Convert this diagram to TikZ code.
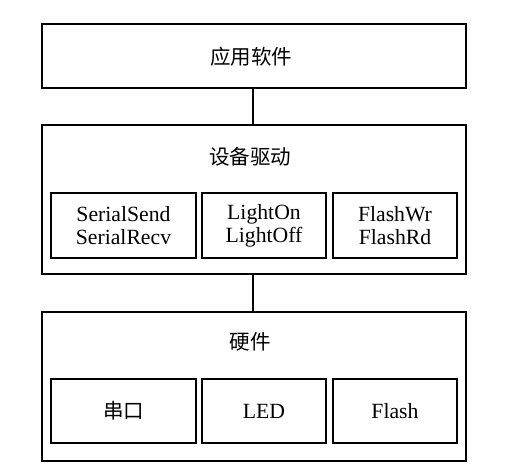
\documentclass[tikz,border=0pt]{standalone}
\usepackage{fontspec}
\setmainfont{Liberation Serif}
\newfontfamily\cjk{Noto Sans CJK SC}
\begin{document}
\begin{tikzpicture}[x=1pt,y=-1pt,
  box/.style={draw,line width=1.1pt,inner sep=0pt,outer sep=0pt,anchor=north west},
  cjktext/.style={font=\cjk\fontsize{20.5}{24}\selectfont},
  latintext/.style={font=\fontsize{21.7}{23}\selectfont,align=center},
  link/.style={line width=1.1pt}]
\useasboundingbox (0,0) rectangle (515,472);
% top
\node[box,minimum width=424pt,minimum height=64pt] (app) at (42,24) {};
\node[cjktext] (apptxt) at (251,57) {应用软件};
% driver layer
\node[box,minimum width=424pt,minimum height=149pt] (drv) at (42,125) {};
\node[cjktext] (drvtxt) at (250,157) {设备驱动};
\node[box,minimum width=145pt,minimum height=65pt] (d1) at (51,193) {};
\node[box,minimum width=124pt,minimum height=65pt] (d2) at (202,193) {};
\node[box,minimum width=124pt,minimum height=65pt] (d3) at (333,193) {};
\node[latintext] (d1t) at (d1.center) {SerialSend\\SerialRecv};
\node[latintext] (d2t) at (d2.center) {LightOn\\LightOff};
\node[latintext] (d3t) at (d3.center) {FlashWr\\FlashRd};
% hardware layer
\node[box,minimum width=424pt,minimum height=149pt] (hw) at (42,312) {};
\node[cjktext] (hwtxt) at (250,342) {硬件};
\node[box,minimum width=145pt,minimum height=64pt] (h1) at (51,379) {};
\node[box,minimum width=124pt,minimum height=64pt] (h2) at (202,379) {};
\node[box,minimum width=124pt,minimum height=64pt] (h3) at (333,379) {};
\node[cjktext] (h1t) at (h1.center) {串口};
\node[latintext] (h2t) at (h2.center) {LED};
\node[latintext] (h3t) at (h3.center) {Flash};
% connectors
\coordinate (c1a) at (253,88);
\draw[link] (app.south -| c1a) -- (drv.north -| c1a);
\draw[link] (drv.south -| c1a) -- (hw.north -| c1a);
\end{tikzpicture}
\end{document}
